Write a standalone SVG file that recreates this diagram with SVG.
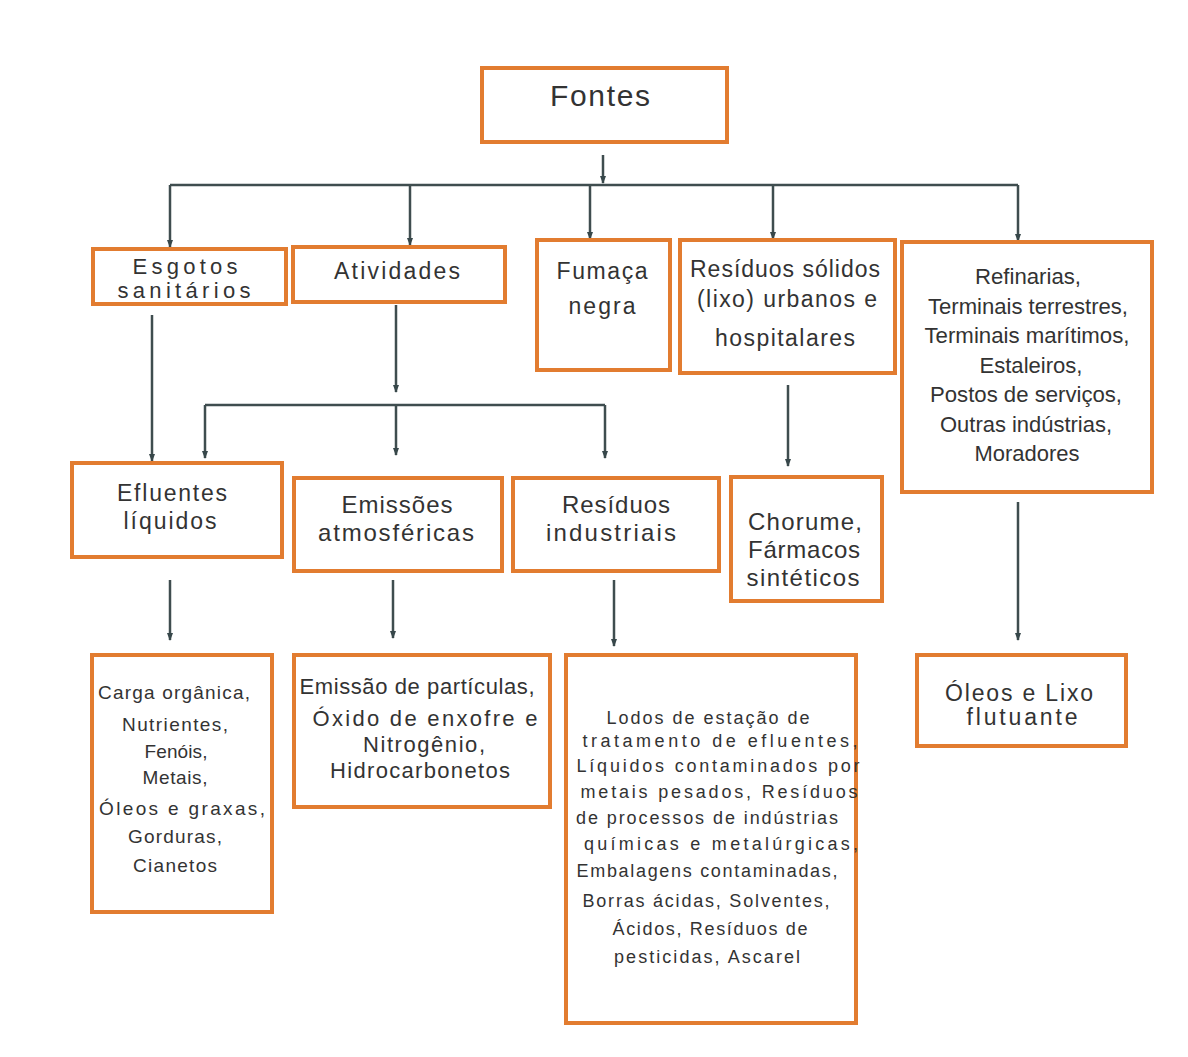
<svg xmlns="http://www.w3.org/2000/svg" width="1188" height="1057" viewBox="0 0 1188 1057">
<defs>
<marker id="ah" markerUnits="userSpaceOnUse" markerWidth="8" markerHeight="8" refX="7" refY="4" orient="auto">
<path d="M0,1 L8,4 L0,7 z" fill="#37474a"/>
</marker>
<style>
.box{fill:#fff;stroke:#e27c30;stroke-width:4}
.c{fill:none;stroke:#3f4d4f;stroke-width:2.5}
.a{marker-end:url(#ah)}
text{font-family:"Liberation Sans",Arial,sans-serif;fill:#333;text-anchor:middle}
.t24{font-size:24px}
.t23{font-size:23px}
.t22{font-size:22px}
.t19{font-size:19px}
.t18{font-size:18px}
.t21{font-size:22px}
</style>
</defs>
<rect width="1188" height="1057" fill="#fff"/>
<g id="connectors">
<path class="c a" d="M603,155 V183"/>
<path class="c" d="M170,185 H1018"/>
<path class="c a" d="M170,185 V247"/>
<path class="c a" d="M410,185 V245"/>
<path class="c a" d="M590,185 V239"/>
<path class="c a" d="M773,185 V239"/>
<path class="c a" d="M1018,185 V241"/>
<path class="c a" d="M152,315 V461"/>
<path class="c a" d="M396,305 V392"/>
<path class="c" d="M205,405 H605"/>
<path class="c a" d="M205,405 V458"/>
<path class="c a" d="M396,405 V455"/>
<path class="c a" d="M605,405 V458"/>
<path class="c a" d="M788,385 V466"/>
<path class="c a" d="M1018,502 V640"/>
<path class="c a" d="M170,580 V640"/>
<path class="c a" d="M393,580 V638"/>
<path class="c a" d="M614,580 V646"/>
</g>
<g id="fontes">
<rect class="box" x="482" y="68" width="245" height="74"/>
<text x="600" y="106" font-size="30" textLength="100" lengthAdjust="spacing">Fontes</text>
</g>
<g id="esgotos">
<rect class="box" x="93" y="249" width="193" height="55"/>
<text class="t22" x="185" y="274" textLength="105" lengthAdjust="spacing">Esgotos</text>
<text class="t22" x="184" y="298" textLength="133" lengthAdjust="spacing">sanitários</text>
</g>
<g id="atividades">
<rect class="box" x="293" y="247" width="212" height="55"/>
<text class="t23" x="397" y="279" textLength="126" lengthAdjust="spacing">Atividades</text>
</g>
<g id="fumaca">
<rect class="box" x="537" y="240" width="133" height="130"/>
<text class="t23" x="602" y="279" textLength="91" lengthAdjust="spacing">Fumaça</text>
<text class="t23" x="602" y="314" textLength="67" lengthAdjust="spacing">negra</text>
</g>
<g id="residuos-solidos">
<rect class="box" x="680" y="240" width="215" height="133"/>
<text class="t23" x="785" y="277" textLength="190" lengthAdjust="spacing">Resíduos sólidos</text>
<text class="t23" x="787" y="307" textLength="180" lengthAdjust="spacing">(lixo) urbanos e</text>
<text class="t23" x="785" y="346" textLength="140" lengthAdjust="spacing">hospitalares</text>
</g>
<g id="refinarias">
<rect class="box" x="902" y="242" width="250" height="250"/>
<text class="t22" x="1028" y="284" textLength="106" lengthAdjust="spacingAndGlyphs">Refinarias,</text>
<text class="t22" x="1028" y="314" textLength="200" lengthAdjust="spacingAndGlyphs">Terminais terrestres,</text>
<text class="t22" x="1027" y="343" textLength="205" lengthAdjust="spacingAndGlyphs">Terminais marítimos,</text>
<text class="t22" x="1031" y="373" textLength="103" lengthAdjust="spacingAndGlyphs">Estaleiros,</text>
<text class="t22" x="1026" y="402" textLength="192" lengthAdjust="spacingAndGlyphs">Postos de serviços,</text>
<text class="t22" x="1026" y="432" textLength="172" lengthAdjust="spacingAndGlyphs">Outras indústrias,</text>
<text class="t22" x="1027" y="461" textLength="105" lengthAdjust="spacingAndGlyphs">Moradores</text>
</g>
<g id="efluentes">
<rect class="box" x="72" y="463" width="210" height="94"/>
<text class="t23" x="172" y="501" textLength="110" lengthAdjust="spacing">Efluentes</text>
<text class="t23" x="170" y="529" textLength="93" lengthAdjust="spacing">líquidos</text>
</g>
<g id="emissoes">
<rect class="box" x="294" y="478" width="208" height="93"/>
<text class="t24" x="397" y="513" textLength="111" lengthAdjust="spacing">Emissões</text>
<text class="t24" x="396" y="541" textLength="156" lengthAdjust="spacing">atmosféricas</text>
</g>
<g id="residuos-industriais">
<rect class="box" x="513" y="478" width="206" height="93"/>
<text class="t24" x="616" y="513" textLength="108" lengthAdjust="spacing">Resíduos</text>
<text class="t24" x="611" y="541" textLength="130" lengthAdjust="spacing">industriais</text>
</g>
<g id="chorume">
<rect class="box" x="731" y="477" width="151" height="124"/>
<text class="t24" x="805" y="530" textLength="114" lengthAdjust="spacing">Chorume,</text>
<text class="t24" x="804" y="558" textLength="112" lengthAdjust="spacing">Fármacos</text>
<text class="t24" x="803" y="586" textLength="113" lengthAdjust="spacing">sintéticos</text>
</g>
<g id="carga">
<rect class="box" x="92" y="655" width="180" height="257"/>
<text class="t19" x="174" y="699" textLength="152" lengthAdjust="spacing">Carga orgânica,</text>
<text class="t19" x="175" y="731" textLength="106" lengthAdjust="spacing">Nutrientes,</text>
<text class="t19" x="176" y="758" textLength="63" lengthAdjust="spacing">Fenóis,</text>
<text class="t19" x="175" y="784" textLength="65" lengthAdjust="spacing">Metais,</text>
<text class="t19" x="182" y="815" textLength="166" lengthAdjust="spacing">Óleos e graxas,</text>
<text class="t19" x="175" y="843" textLength="94" lengthAdjust="spacing">Gorduras,</text>
<text class="t19" x="175" y="872" textLength="84" lengthAdjust="spacing">Cianetos</text>
</g>
<g id="emissao-particulas">
<rect class="box" x="294" y="655" width="256" height="152"/>
<text class="t21" x="417" y="694" textLength="235" lengthAdjust="spacing">Emissão de partículas,</text>
<text class="t21" x="425" y="726" textLength="225" lengthAdjust="spacing">Óxido de enxofre e</text>
<text class="t21" x="424" y="752" textLength="122" lengthAdjust="spacing">Nitrogênio,</text>
<text class="t21" x="420" y="778" textLength="180" lengthAdjust="spacing">Hidrocarbonetos</text>
</g>
<g id="lodos">
<rect class="box" x="566" y="655" width="290" height="368"/>
<text class="t18" x="708" y="724" textLength="203" lengthAdjust="spacing">Lodos de estação de</text>
<text class="t18" x="720" y="747" textLength="275" lengthAdjust="spacing">tratamento de efluentes,</text>
<text class="t18" x="718" y="772" textLength="283" lengthAdjust="spacing">Líquidos contaminados por</text>
<text class="t18" x="719" y="798" textLength="277" lengthAdjust="spacing">metais pesados, Resíduos</text>
<text class="t18" x="707" y="824" textLength="262" lengthAdjust="spacing">de processos de indústrias</text>
<text class="t18" x="721" y="850" textLength="274" lengthAdjust="spacing">químicas e metalúrgicas,</text>
<text class="t18" x="707" y="877" textLength="261" lengthAdjust="spacing">Embalagens contaminadas,</text>
<text class="t18" x="706" y="907" textLength="247" lengthAdjust="spacing">Borras ácidas, Solventes,</text>
<text class="t18" x="710" y="935" textLength="195" lengthAdjust="spacing">Ácidos, Resíduos de</text>
<text class="t18" x="707" y="963" textLength="186" lengthAdjust="spacing">pesticidas, Ascarel</text>
</g>
<g id="oleos-lixo">
<rect class="box" x="917" y="655" width="209" height="91"/>
<text class="t23" x="1019" y="701" textLength="148" lengthAdjust="spacing">Óleos e Lixo</text>
<text class="t23" x="1022" y="725" textLength="111" lengthAdjust="spacing">flutuante</text>
</g>
</svg>
